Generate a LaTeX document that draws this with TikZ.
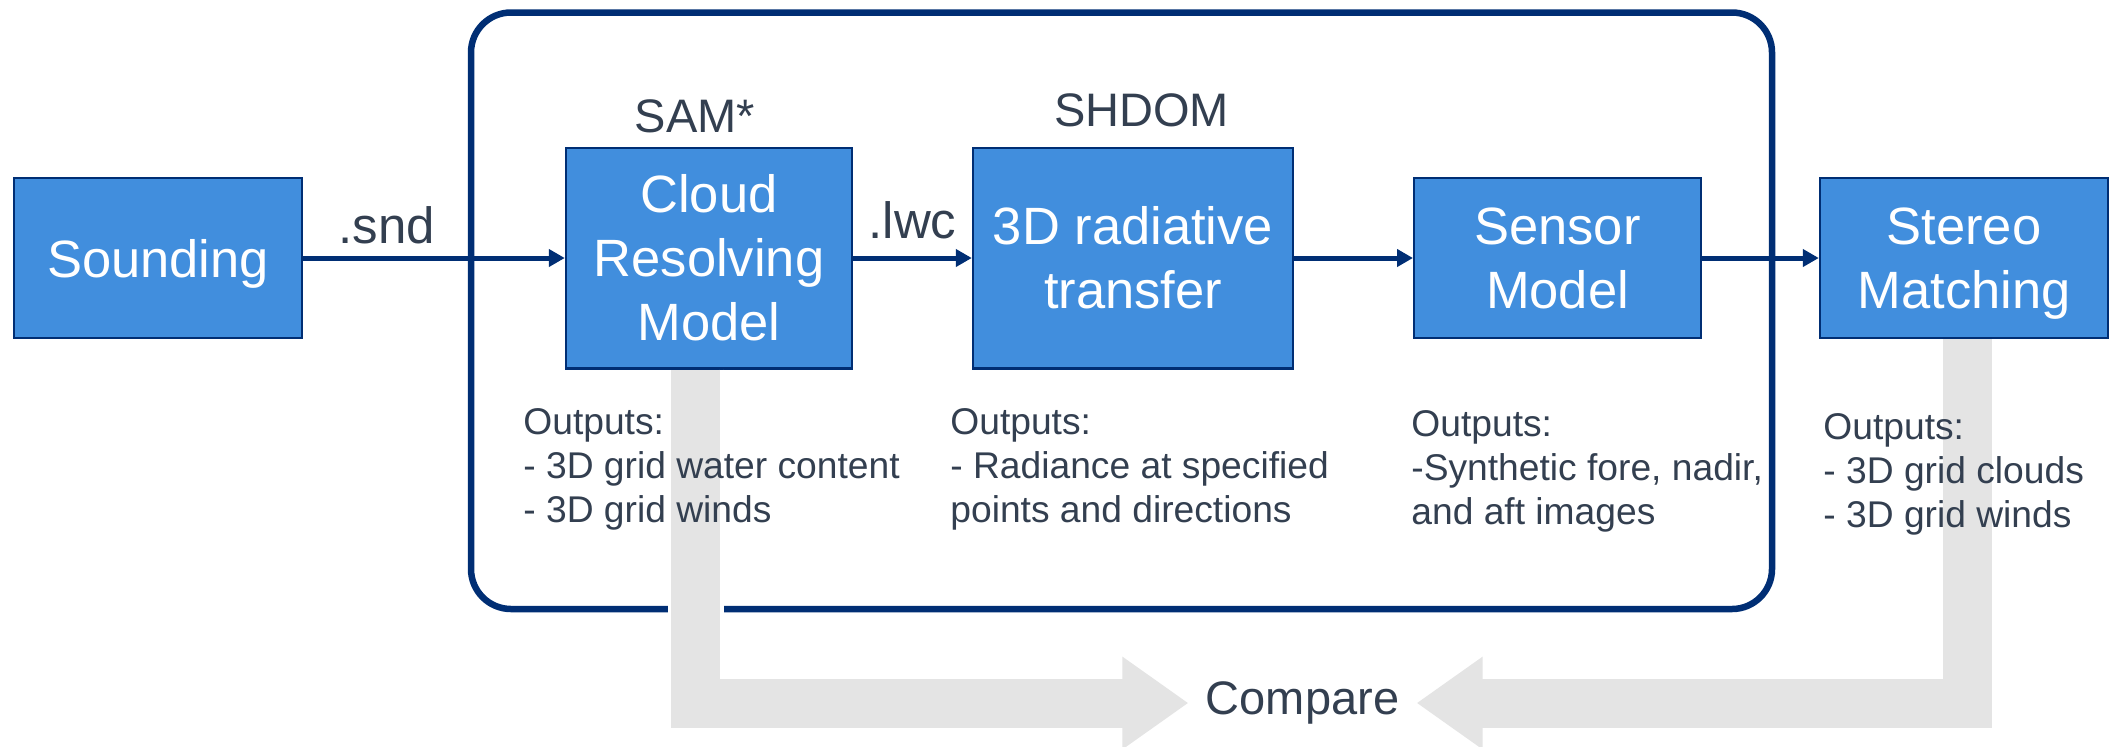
\documentclass[tikz,border=0pt]{standalone}
\usepackage{fontspec}
\setmainfont{Liberation Sans}
\usetikzlibrary{arrows.meta,positioning}
\definecolor{boxblue}{HTML}{418EDD}
\definecolor{linenavy}{HTML}{002E74}
\definecolor{textslate}{HTML}{333F50}
\definecolor{arrowgray}{HTML}{E4E4E4}
\begin{document}
\begin{tikzpicture}
[x=0.5pt,y=-0.5pt,
  boxdecorate/.style={shape=rectangle,draw=linenavy,line width=1.2pt,fill=boxblue,text=white,align=center,inner sep=0pt,font=\fontsize{26.25pt}{32pt}\selectfont},%
  framedecorate/.style={shape=rectangle,draw=linenavy,line width=3.25pt,rounded corners=20pt,minimum width=650.5pt,minimum height=298.25pt},%
  arrowdecorate/.style={-{Triangle[length=8pt,width=8.5pt]},draw=linenavy,line width=2.5pt},%
  grayarrowdecorate/.style={-{Triangle[length=33pt,width=44pt]},draw=arrowgray,line width=24.5pt,preaction={draw=white,line width=28pt,-}},%
  labeldecorate/.style={text=textslate,inner sep=0pt,font=\fontsize{23.5pt}{28pt}\selectfont},%
  extdecorate/.style={text=textslate,inner sep=0pt,font=\fontsize{25.5pt}{30pt}\selectfont},%
  outputdecorate/.style={text=textslate,inner sep=0pt,anchor=north west,align=left,font=\fontsize{18.6pt}{22pt}\selectfont}]
\useasboundingbox (0,0) rectangle (2113,746);
% simulation frame
\node (sim) at (1121.5,310.75) [framedecorate] {};
% nodes or blocks
\node (sounding) at (158,258) [boxdecorate,minimum width=144pt,minimum height=80pt,text depth=0pt] {Sounding};
\node (cloud) at (709,258) [boxdecorate,minimum width=143pt,minimum height=110.3pt] {Cloud\\Resolving\\Model};
\node (rt) at (1133,258) [boxdecorate,minimum width=160pt,minimum height=110.3pt] {3D radiative\\transfer};
\node (sensor) at (1557.5,258) [boxdecorate,minimum width=143.3pt,minimum height=80pt] {Sensor\\Model};
\node (stereo) at (1964,258) [boxdecorate,minimum width=144pt,minimum height=80pt] {Stereo\\\raisebox{0pt}[\height][0pt]{Matching}};
\node (sam) [labeldecorate,above=6.5pt,xshift=-7pt] at (cloud.north) {SAM*};
\node (shdom) [labeldecorate,above=9.5pt,xshift=4.25pt] at (rt.north) {SHDOM};
\node (compare) at (1302.5,703) [labeldecorate,inner xsep=8.5pt] {Compare};
% comparison arrows
\draw[grayarrowdecorate] ([xshift=-6.75pt]cloud.south) |- (compare.west);
\draw[grayarrowdecorate] ([xshift=1.75pt]stereo.south) |- (compare.east);
% outputs
\node (outcloud) at (523,408) [outputdecorate] {Outputs:\\- 3D grid water content\\- 3D grid winds};
\node (outrt) at (950,408) [outputdecorate] {Outputs:\\- Radiance at specified\\points and directions};
\node (outsensor) at (1411,410) [outputdecorate] {Outputs:\\-Synthetic fore, nadir,\\and aft images};
\node (outstereo) at (1823,413) [outputdecorate] {Outputs:\\- 3D grid clouds\\- 3D grid winds};
% edges or lines
\path
(sounding) edge[arrowdecorate] node[extdecorate,above=6pt,pos=0.32]{.snd} (cloud)
(cloud) edge[arrowdecorate] node[extdecorate,above=8.5pt]{.lwc} (rt)
(rt) edge[arrowdecorate] (sensor)
(sensor) edge[arrowdecorate] (stereo);
\end{tikzpicture}
\end{document}
